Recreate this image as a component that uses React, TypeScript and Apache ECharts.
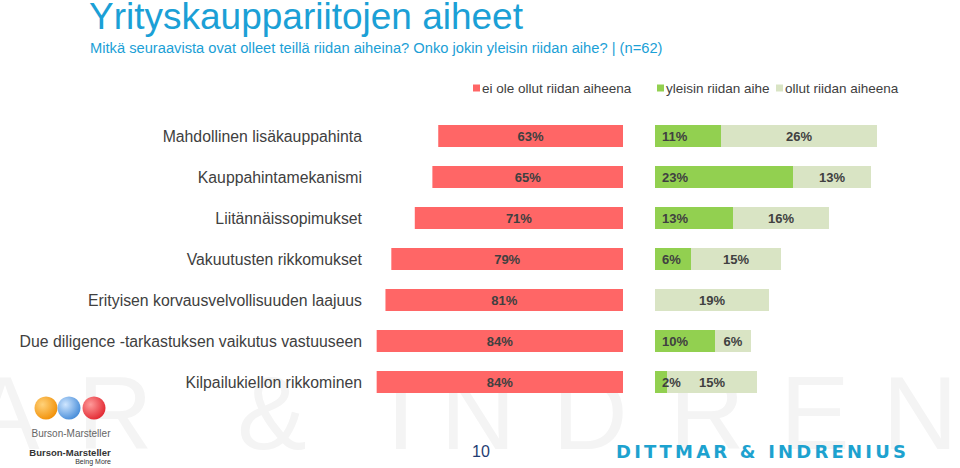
import React, { useEffect, useRef } from 'react';
import * as echarts from 'echarts';

const categories = [
  'Mahdollinen lisäkauppahinta',
  'Kauppahintamekanismi',
  'Liitännäissopimukset',
  'Vakuutusten rikkomukset',
  'Erityisen korvausvelvollisuuden laajuus',
  'Due diligence -tarkastuksen vaikutus vastuuseen',
  'Kilpailukiellon rikkominen',
];
const notDispute = [63, 65, 71, 79, 81, 84, 84];
const mostCommon = [11, 23, 13, 6, 0, 10, 2];
const hasBeen = [26, 13, 16, 15, 19, 6, 15];
const seriesNames = ['ei ole ollut riidan aiheena', 'yleisin riidan aihe', 'ollut riidan aiheena'];

const titleText = 'Yrityskauppariitojen aiheet';
const subtitleText = 'Mitkä seuraavista ovat olleet teillä riidan aiheina? Onko jokin yleisin riidan aihe? | (n=62)';
const pageNumber = '10';
const brandText = 'DITTMAR & INDRENIUS';
const watermarkLetters = ['A', 'R', '&', 'I', 'N', 'D', 'R', 'E', 'N'];

const FONT = '"Liberation Sans", Arial, sans-serif';
const COLORS = ['#FF6666', '#92D050', '#D9E4C4'];

function spacedLetters(text: string, left: number, width: number, y: number, font: string, size: number, weight: string, color: string) {
  const canvas = document.createElement('canvas');
  const ctx = canvas.getContext('2d')!;
  ctx.font = `${weight} ${size}px ${font}`;
  const chars = text.split('');
  const widths = chars.map((c) => ctx.measureText(c).width);
  const natural = widths.reduce((a, b) => a + b, 0);
  const gap = (width - natural) / (chars.length - 1);
  let x = left;
  return chars.map((c, i) => {
    const el = {
      type: 'text',
      x,
      y,
      silent: true,
      style: { text: c, fill: color, font: `${weight} ${size}px ${font}`, verticalAlign: 'middle', align: 'left' },
    };
    x += widths[i] + gap;
    return el;
  });
}

export default function App() {
  const ref = useRef<HTMLDivElement>(null);
  useEffect(() => {
    if (!ref.current) return;
    const chart = echarts.init(ref.current, undefined, { renderer: 'svg' });
    const labelBase = { color: '#404040', fontSize: 13, fontWeight: 'bold' as const, fontFamily: FONT };
    const wmCenters = [5, 115, 272, 401, 478, 590, 707, 815, 920];
    const watermark = watermarkLetters.map((c, i) => ({
      type: 'text',
      x: wmCenters[i],
      y: 413,
      z: -10,
      silent: true,
      style: { text: c, fill: '#f4f4f4', font: `normal 104px ${FONT}`, align: 'center', verticalAlign: 'middle' },
    }));
    const brand = spacedLetters(brandText, 616, 290, 451, '"DejaVu Sans", sans-serif', 18, 'bold', '#1DA2CF');
    const globe = (cx: number, c1: string, c2: string) => ({
      type: 'circle',
      shape: { cx, cy: 408, r: 11.5 },
      silent: true,
      style: { fill: new echarts.graphic.RadialGradient(0.35, 0.35, 0.75, [{ offset: 0, color: c1 }, { offset: 1, color: c2 }]) },
    });
    chart.setOption({
      animation: false,
      backgroundColor: '#ffffff',
      title: [
        {
          text: titleText,
          left: 89,
          top: -2,
          padding: 0,
          textStyle: { fontSize: 37, fontWeight: 'normal', color: '#1BA0D6', fontFamily: FONT },
        },
        {
          text: subtitleText,
          left: 90,
          top: 40,
          padding: 0,
          textStyle: { fontSize: 14.7, fontWeight: 'normal', color: '#1BA0D6', fontFamily: FONT },
        },
      ],
      legend: seriesNames.map((n, i) => ({
        data: [n],
        left: [473, 657, 776][i],
        top: 81,
        padding: 0,
        icon: 'rect',
        itemWidth: 7,
        itemHeight: 7,
        selectedMode: false,
        textStyle: { fontSize: 13.5, color: '#404040', fontFamily: FONT, padding: [0, 0, 0, -3] },
      })),
      grid: [
        { left: 362, width: 261, top: 115.5, height: 287, containLabel: false },
        { left: 655, width: 300, top: 115.5, height: 287, containLabel: false },
      ],
      xAxis: [
        { gridIndex: 0, type: 'value', min: 0, max: 89, inverse: true, show: false },
        { gridIndex: 1, type: 'value', min: 0, max: 50, show: false },
      ],
      yAxis: [
        {
          gridIndex: 0,
          type: 'category',
          data: categories,
          inverse: true,
          axisLine: { show: false },
          axisTick: { show: false },
          splitLine: { show: false },
          axisLabel: { margin: 0, fontSize: 15.8, color: '#404040', fontFamily: FONT },
        },
        {
          gridIndex: 1,
          type: 'category',
          data: categories,
          inverse: true,
          show: false,
        },
      ],
      series: [
        {
          name: seriesNames[0],
          type: 'bar',
          xAxisIndex: 0,
          yAxisIndex: 0,
          data: notDispute,
          barWidth: 22,
          itemStyle: { color: COLORS[0] },
          label: { show: true, position: 'inside', formatter: '{c}%', ...labelBase },
        },
        {
          name: seriesNames[1],
          type: 'bar',
          xAxisIndex: 1,
          yAxisIndex: 1,
          stack: 'right',
          data: mostCommon,
          barWidth: 22,
          itemStyle: { color: COLORS[1] },
          label: {
            show: true,
            position: 'insideLeft',
            distance: 7,
            formatter: (p: any) => (p.value > 0 ? `${p.value}%` : ''),
            ...labelBase,
          },
        },
        {
          name: seriesNames[2],
          type: 'bar',
          xAxisIndex: 1,
          yAxisIndex: 1,
          stack: 'right',
          data: hasBeen,
          barWidth: 22,
          itemStyle: { color: COLORS[2] },
          label: {
            show: true,
            position: 'inside',
            formatter: (p: any) => (p.value > 0 ? `${p.value}%` : ''),
            ...labelBase,
          },
        },
      ],
      graphic: [
        ...watermark,
        globe(46, '#FFD27A', '#F08C00'),
        globe(69, '#CFE6FF', '#3D86D6'),
        globe(94, '#FF9A9A', '#E0202A'),
        {
          type: 'text',
          x: 71,
          y: 433,
          silent: true,
          style: { text: 'Burson-Marsteller', fill: '#666666', font: `normal 10px ${FONT}`, align: 'center', verticalAlign: 'middle' },
        },
        {
          type: 'text',
          x: 70,
          y: 452,
          silent: true,
          style: { text: 'Burson-Marsteller', fill: '#333333', font: `bold 9.5px ${FONT}`, align: 'center', verticalAlign: 'middle' },
        },
        {
          type: 'text',
          x: 111,
          y: 461,
          silent: true,
          style: { text: 'Being More', fill: '#333333', font: `normal 7px ${FONT}`, align: 'right', verticalAlign: 'middle' },
        },
        {
          type: 'text',
          x: 481,
          y: 451,
          silent: true,
          style: { text: pageNumber, fill: '#1F3D73', font: `normal 16px ${FONT}`, align: 'center', verticalAlign: 'middle' },
        },
        ...brand,
      ],
    });
    return () => chart.dispose();
  }, []);
  return <div ref={ref} style={{ position: 'absolute', left: 0, top: 0, width: 960, height: 468 }} />;
}
